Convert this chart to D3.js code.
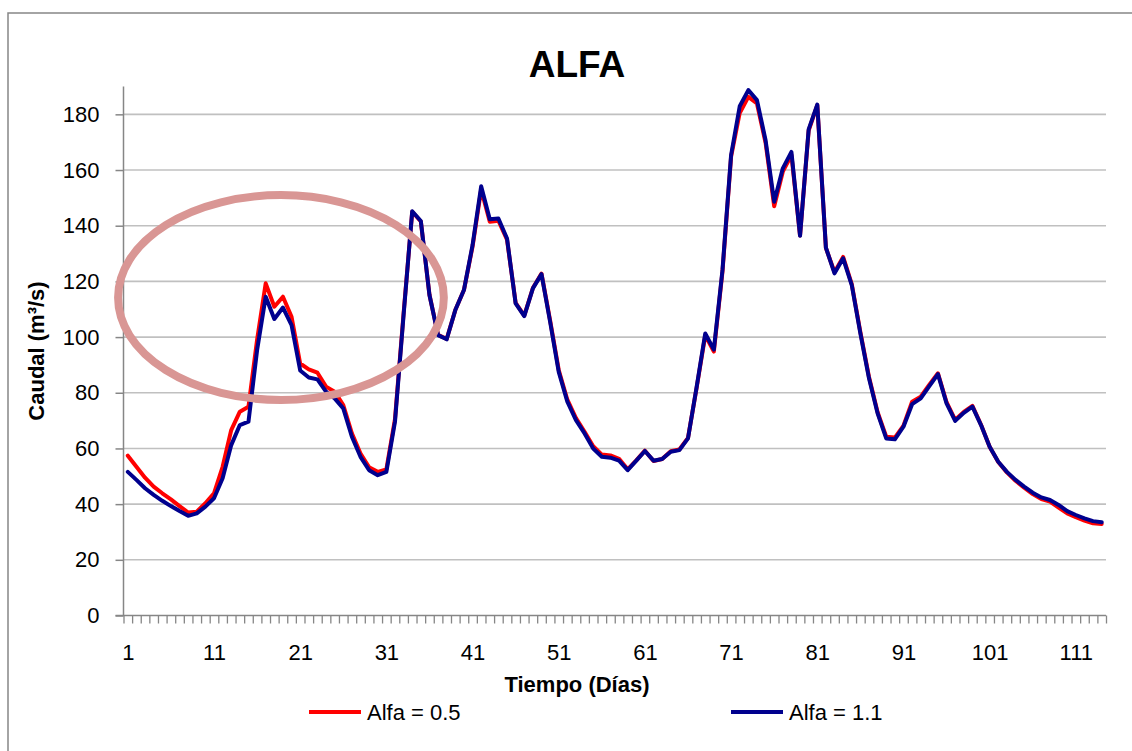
<!DOCTYPE html>
<html>
<head>
<meta charset="utf-8">
<script src="https://cdn.jsdelivr.net/npm/d3@7"></script>
<style>
  html, body { margin: 0; padding: 0; background: #ffffff; }
  svg { display: block; }
  text { font-family: "Liberation Sans", Arial, sans-serif; fill: #000; }
</style>
</head>
<body>
<svg id="chart" width="1132" height="751"></svg>
<script>
// Days of the simulation (category axis)
const days = d3.range(1, 115);

// Caudal (m3/s) for each day, alpha = 0.5
const alfa05 = [
  57.4, 53.4, 49.5, 46.3, 43.9, 41.7, 39.3, 37.0, 37.3, 40.3,
  43.9, 53.4, 66.6, 73.2, 75.0, 99.0, 119.3, 110.9, 114.5, 107.3,
  90.5, 88.4, 87.2, 82.2, 80.4, 75.6, 65.4, 58.2, 53.2, 51.6,
  52.5, 70.5, 108.5, 145.0, 141.5, 115.2, 100.8, 99.3, 109.7, 116.9,
  132.5, 153.0, 141.4, 141.8, 135.0, 112.3, 107.7, 117.6, 122.8, 106.0,
  88.2, 77.5, 70.9, 66.0, 60.8, 57.8, 57.5, 56.3, 52.5, 55.7,
  59.2, 55.5, 56.2, 59.0, 59.6, 63.8, 81.8, 100.6, 94.8, 123.5,
  164.8, 180.5, 186.3, 183.9, 169.8, 147.0, 159.4, 165.4, 136.5, 174.2,
  183.3, 132.0, 123.3, 128.8, 119.0, 101.8, 85.7, 73.0, 64.2, 63.9,
  68.2, 76.8, 78.6, 82.9, 87.0, 76.6, 70.3, 73.1, 75.3, 68.5,
  60.6, 55.1, 51.4, 48.4, 45.9, 43.6, 41.8, 40.9, 38.8, 36.7,
  35.3, 34.1, 33.1, 32.9
];

// Caudal (m3/s) for each day, alpha = 1.1
const alfa11 = [
  51.6, 48.7, 45.7, 43.3, 41.2, 39.3, 37.5, 35.8, 36.7, 39.1,
  42.1, 49.3, 61.2, 68.4, 69.6, 95.3, 114.5, 106.5, 110.6, 104.3,
  88.0, 85.5, 84.8, 80.4, 78.0, 74.4, 64.2, 57.0, 52.2, 50.4,
  51.6, 69.6, 108.0, 145.2, 141.7, 115.1, 100.7, 99.2, 109.7, 116.9,
  133.0, 154.2, 142.3, 142.6, 135.4, 112.1, 107.5, 117.5, 122.6, 105.5,
  87.5, 76.8, 70.2, 65.4, 60.0, 57.0, 56.7, 55.6, 52.2, 55.6,
  59.1, 55.6, 56.2, 58.8, 59.4, 63.6, 82.0, 101.3, 95.5, 124.1,
  165.4, 182.9, 188.7, 185.1, 170.7, 148.6, 160.6, 166.5, 136.4, 174.6,
  183.5, 132.1, 122.9, 128.3, 118.7, 101.3, 85.2, 72.6, 63.6, 63.3,
  67.8, 75.9, 78.0, 82.4, 86.7, 76.2, 69.9, 72.8, 75.0, 68.4,
  60.6, 55.2, 51.6, 48.7, 46.3, 44.1, 42.4, 41.5, 39.7, 37.5,
  36.1, 34.9, 33.9, 33.5
];

const seriesNames = ["Alfa = 0.5", "Alfa = 1.1"];
const seriesColors = ["#ff0000", "#00008e"];

// Axis ticks
const yTicks = [0, 20, 40, 60, 80, 100, 120, 140, 160, 180];
const xTickLabels = [1, 11, 21, 31, 41, 51, 61, 71, 81, 91, 101, 111];

// Highlighted region (day, caudal) with half-widths in the same units
const highlight = { day: 18.77, caudal: 114.2, rDays: 18.9, rCaudal: 36.8 };

const svg = d3.select("#chart");
const plot = { left: 123.5, right: 1106, top: 86.5, bottom: 615.5 };

const x = d3.scaleLinear().domain([0.5, days.length + 0.5]).range([plot.left, plot.right]);
const y = d3.scaleLinear().domain([0, 190]).range([plot.bottom, plot.top]);

// Chart frame (top and left edges)
svg.append("path")
  .attr("d", "M8,751V13H1132")
  .attr("fill", "none").attr("stroke", "#868686").attr("stroke-width", 1.5);

// Horizontal gridlines
svg.append("g").selectAll("line")
  .data(yTicks.filter(t => t > 0))
  .join("line")
  .attr("x1", plot.left).attr("x2", plot.right)
  .attr("y1", d => y(d)).attr("y2", d => y(d))
  .attr("stroke", "#c0c0c0").attr("stroke-width", 1.6);

// Y axis
const yAxis = svg.append("g")
  .attr("transform", `translate(${plot.left},0)`)
  .call(d3.axisLeft(y).tickValues(yTicks).tickSize(8).tickPadding(16));
yAxis.select(".domain").attr("stroke", "#868686").attr("stroke-width", 1.5)
  .attr("d", `M0,${plot.top}V${plot.bottom}`);
yAxis.selectAll(".tick line").attr("stroke", "#868686").attr("stroke-width", 1.5);
yAxis.selectAll(".tick text").attr("font-size", 22).attr("font-family", "Liberation Sans, Arial, sans-serif").attr("fill", "#000");

// X axis: tick marks between categories
const xAxisTicks = svg.append("g")
  .attr("transform", `translate(0,${plot.bottom})`)
  .call(d3.axisBottom(x).tickValues(d3.range(0.5, days.length + 1, 1)).tickSize(8).tickFormat(""));
xAxisTicks.select(".domain").attr("stroke", "#868686").attr("stroke-width", 1.5)
  .attr("d", `M${plot.left - 8},0H${plot.right}`);
xAxisTicks.selectAll(".tick line").attr("stroke", "#868686").attr("stroke-width", 1.3);

// X axis: category labels every 10 days
const xAxisLabels = svg.append("g")
  .attr("transform", `translate(0,${plot.bottom})`)
  .call(d3.axisBottom(x).tickValues(xTickLabels).tickSize(0).tickPadding(29).tickFormat(d3.format("d")));
xAxisLabels.select(".domain").remove();
xAxisLabels.selectAll(".tick text").attr("font-size", 22).attr("font-family", "Liberation Sans, Arial, sans-serif").attr("fill", "#000");

// Series lines
const line = d3.line().x((d, i) => x(days[i])).y(d => y(d));
[alfa05, alfa11].forEach((vals, k) => {
  svg.append("path")
    .datum(vals)
    .attr("d", line)
    .attr("fill", "none")
    .attr("stroke", seriesColors[k])
    .attr("stroke-width", 4)
    .attr("stroke-linejoin", "round")
    .attr("stroke-linecap", "round");
});

// Highlight ellipse
svg.append("ellipse")
  .attr("cx", x(highlight.day))
  .attr("cy", y(highlight.caudal))
  .attr("rx", x(highlight.day + highlight.rDays) - x(highlight.day))
  .attr("ry", y(highlight.caudal - highlight.rCaudal) - y(highlight.caudal))
  .attr("fill", "none")
  .attr("stroke", "#d99694")
  .attr("stroke-width", 8);

// Title
svg.append("text")
  .attr("x", 577).attr("y", 77)
  .attr("text-anchor", "middle")
  .attr("font-size", 37).attr("font-weight", "bold")
  .text("ALFA");

// Axis titles
svg.append("text")
  .attr("x", 577).attr("y", 692)
  .attr("text-anchor", "middle")
  .attr("font-size", 22).attr("font-weight", "bold")
  .text("Tiempo (Días)");

svg.append("text")
  .attr("transform", "translate(44,351) rotate(-90)")
  .attr("text-anchor", "middle")
  .attr("font-size", 22).attr("font-weight", "bold")
  .text("Caudal (m³/s)");

// Legend
const legendPos = [309, 731];
seriesNames.forEach((name, k) => {
  const g = svg.append("g").attr("transform", `translate(${legendPos[k]},712)`);
  g.append("line").attr("x1", 0).attr("x2", 52).attr("y1", 0).attr("y2", 0)
    .attr("stroke", seriesColors[k]).attr("stroke-width", 4);
  g.append("text").attr("x", 58).attr("y", 8).attr("font-size", 22).text(name);
});
</script>
</body>
</html>
